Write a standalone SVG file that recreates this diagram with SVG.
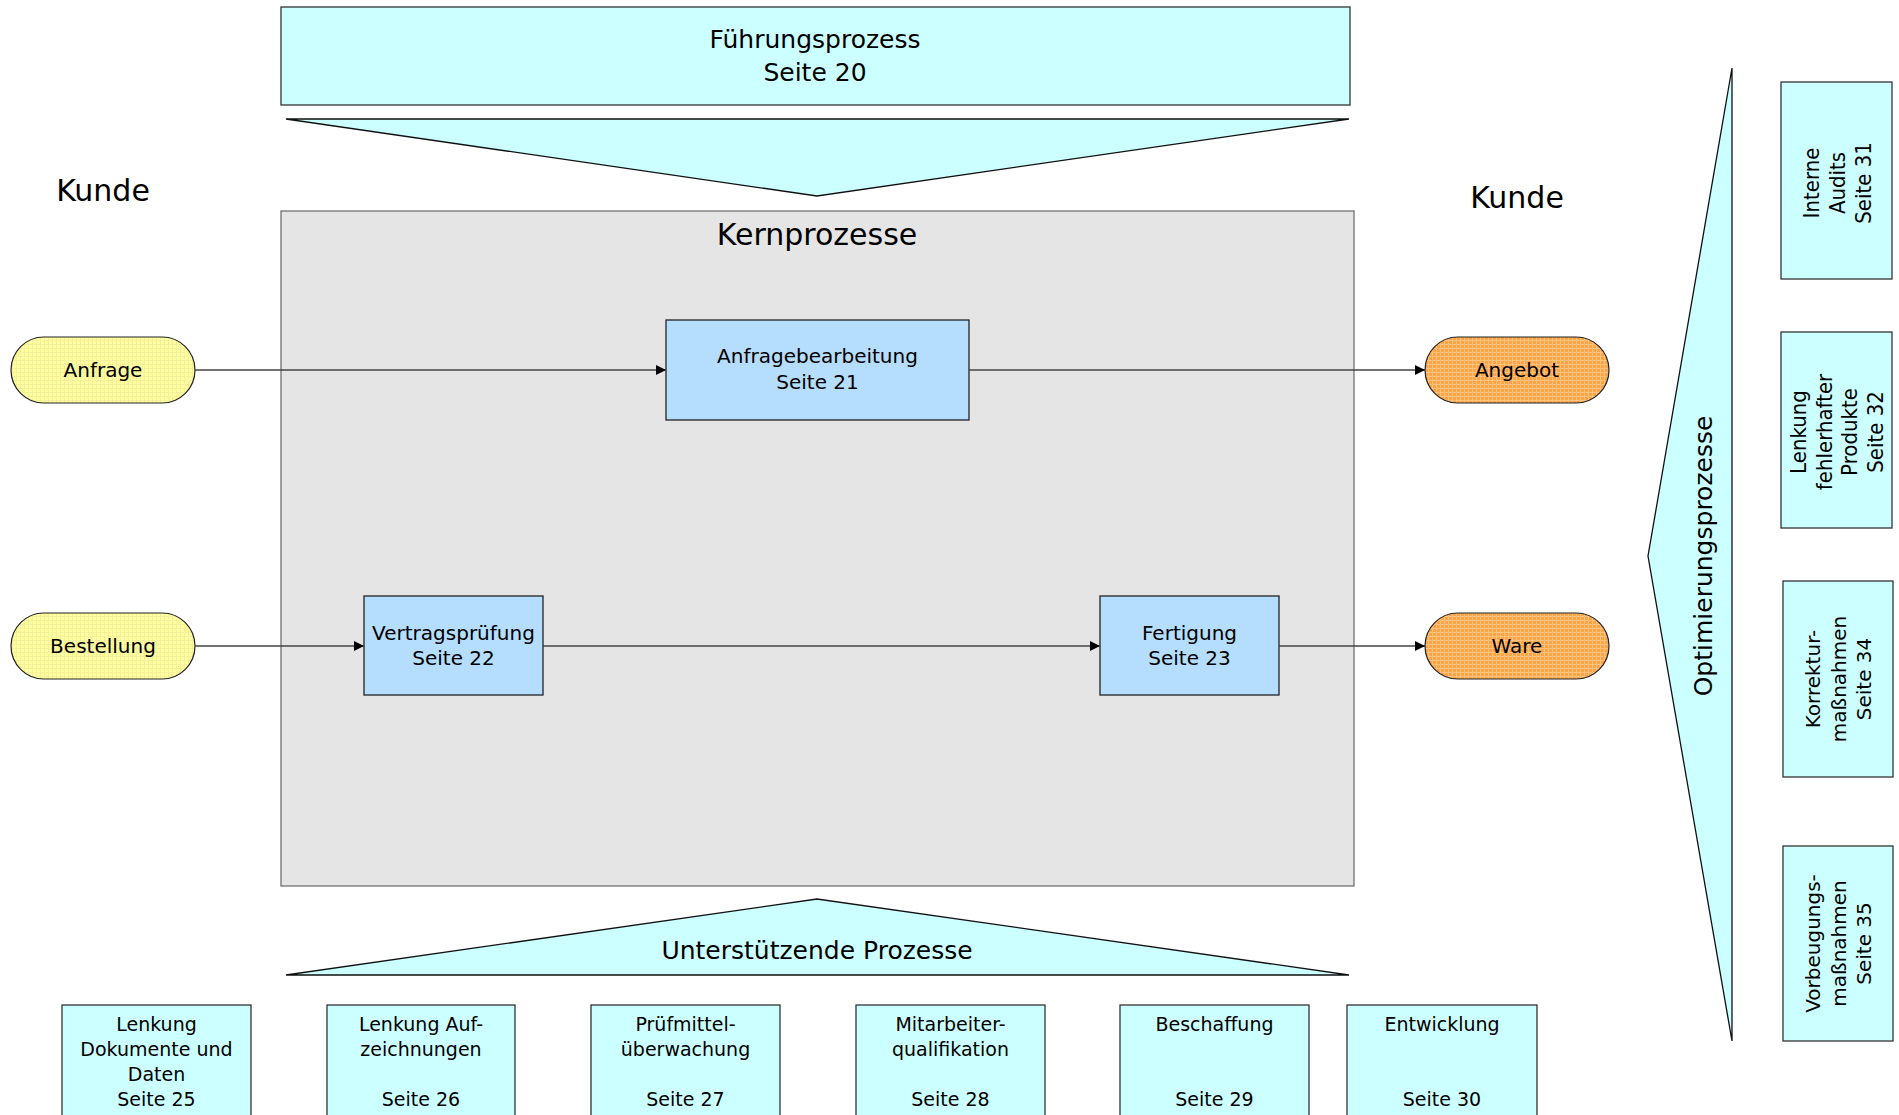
<svg xmlns="http://www.w3.org/2000/svg" width="1899" height="1115" viewBox="0 0 1899 1115">
<defs>
<pattern id="pY" width="4" height="4" patternUnits="userSpaceOnUse">
<rect width="4" height="4" fill="#ffffa0"/>
<path d="M0 0.5H4M0.5 0V4" stroke="#f4f09c" stroke-width="1"/>
</pattern>
<pattern id="pO" width="4" height="4" patternUnits="userSpaceOnUse">
<rect width="4" height="4" fill="#ffa445"/>
<path d="M0 0.5H4M0.5 0V4" stroke="#ffc27e" stroke-width="1"/>
</pattern>
<marker id="arr" viewBox="0 0 10 10" refX="10" refY="5" markerWidth="10" markerHeight="13" markerUnits="userSpaceOnUse" orient="auto">
<path d="M0 0L10 5L0 10Z" fill="#000"/>
</marker>
<style>
text{font-family:"DejaVu Sans",sans-serif;fill:#000;text-anchor:middle}
.cy{fill:#ccffff;stroke:#333;stroke-width:1.3}
.bl{fill:#b5ddfd;stroke:#222;stroke-width:1.3}
.tri{fill:#ccffff;stroke:#111;stroke-width:1.3}
.t20{font-size:20px}
.t19{font-size:19px}
.t25{font-size:25px}
.t30{font-size:30px}
.nar{font-family:"Liberation Sans Narrow","Arial Narrow","DejaVu Sans Condensed","Liberation Sans",sans-serif;font-size:22px;font-stretch:condensed}
.con{stroke:#444;stroke-width:1.5;fill:none;marker-end:url(#arr)}
</style>
</defs>
<rect width="1899" height="1115" fill="#fff"/>

<g id="fuehrungsprozess">
<rect class="cy" x="281" y="7" width="1069" height="98"/>
<text class="t25" x="815" y="48">Führungsprozess</text>
<text class="t25" x="815" y="81">Seite 20</text>
</g>
<g id="fuehrung-pfeil">
<polygon class="tri" points="286,119 1349,119 817,196"/>
</g>

<g id="kunde-links"><text class="t30" x="103" y="201">Kunde</text></g>
<g id="kunde-rechts"><text class="t30" x="1517" y="208">Kunde</text></g>

<g id="kernprozesse">
<rect x="281" y="211" width="1073" height="675" fill="#e5e5e5" stroke="#666" stroke-width="1.2"/>
<text class="t30" x="817" y="245">Kernprozesse</text>
</g>

<g id="anfrage">
<rect x="11" y="337" width="184" height="66" rx="33" fill="url(#pY)" stroke="#222" stroke-width="1.2"/>
<text class="t20" x="103" y="377">Anfrage</text>
</g>
<g id="bestellung">
<rect x="11" y="613" width="184" height="66" rx="33" fill="url(#pY)" stroke="#222" stroke-width="1.2"/>
<text class="t20" x="103" y="653">Bestellung</text>
</g>
<g id="angebot">
<rect x="1425" y="337" width="184" height="66" rx="33" fill="url(#pO)" stroke="#222" stroke-width="1.2"/>
<text class="t20" x="1517" y="377">Angebot</text>
</g>
<g id="ware">
<rect x="1425" y="613" width="184" height="66" rx="33" fill="url(#pO)" stroke="#222" stroke-width="1.2"/>
<text class="t20" x="1517" y="653">Ware</text>
</g>

<g id="anfragebearbeitung">
<rect class="bl" x="666" y="320" width="303" height="100"/>
<text class="t20" x="817.5" y="363">Anfragebearbeitung</text>
<text class="t20" x="817.5" y="389">Seite 21</text>
</g>
<g id="vertragspruefung">
<rect class="bl" x="364" y="596" width="179" height="99"/>
<text class="t20" x="453.5" y="640">Vertragsprüfung</text>
<text class="t20" x="453.5" y="665">Seite 22</text>
</g>
<g id="fertigung">
<rect class="bl" x="1100" y="596" width="179" height="99"/>
<text class="t20" x="1189.5" y="640">Fertigung</text>
<text class="t20" x="1189.5" y="665">Seite 23</text>
</g>

<g id="connectors">
<line class="con" x1="195" y1="370" x2="666" y2="370"/>
<line class="con" x1="969" y1="370" x2="1425" y2="370"/>
<line class="con" x1="195" y1="646" x2="364" y2="646"/>
<line class="con" x1="543" y1="646" x2="1100" y2="646"/>
<line class="con" x1="1279" y1="646" x2="1425" y2="646"/>
</g>

<g id="unterstuetzende-prozesse">
<polygon class="tri" points="286,975 1349,975 817,899"/>
<text class="t25" x="817" y="959">Unterstützende Prozesse</text>
</g>

<g id="lenkung-dokumente">
<rect class="cy" x="62" y="1005" width="189" height="130"/>
<text class="t19" x="156.5" y="1031">Lenkung</text>
<text class="t19" x="156.5" y="1056">Dokumente und</text>
<text class="t19" x="156.5" y="1081">Daten</text>
<text class="t19" x="156.5" y="1106">Seite 25</text>
</g>
<g id="lenkung-aufzeichnungen">
<rect class="cy" x="327" y="1005" width="188" height="130"/>
<text class="t19" x="421" y="1031">Lenkung Auf-</text>
<text class="t19" x="421" y="1056">zeichnungen</text>
<text class="t19" x="421" y="1106">Seite 26</text>
</g>
<g id="pruefmittel">
<rect class="cy" x="591" y="1005" width="189" height="130"/>
<text class="t19" x="685.5" y="1031">Prüfmittel-</text>
<text class="t19" x="685.5" y="1056">überwachung</text>
<text class="t19" x="685.5" y="1106">Seite 27</text>
</g>
<g id="mitarbeiter">
<rect class="cy" x="856" y="1005" width="189" height="130"/>
<text class="t19" x="950.5" y="1031">Mitarbeiter-</text>
<text class="t19" x="950.5" y="1056">qualifikation</text>
<text class="t19" x="950.5" y="1106">Seite 28</text>
</g>
<g id="beschaffung">
<rect class="cy" x="1120" y="1005" width="189" height="130"/>
<text class="t19" x="1214.5" y="1031">Beschaffung</text>
<text class="t19" x="1214.5" y="1106">Seite 29</text>
</g>
<g id="entwicklung">
<rect class="cy" x="1347" y="1005" width="190" height="130"/>
<text class="t19" x="1442" y="1031">Entwicklung</text>
<text class="t19" x="1442" y="1106">Seite 30</text>
</g>

<g id="optimierungsprozesse">
<polygon class="tri" points="1732,68 1732,1041 1648,556"/>
<text class="t25" transform="translate(1712,556) rotate(-90)" x="0" y="0">Optimierungsprozesse</text>
</g>

<g id="interne-audits">
<rect class="cy" x="1781" y="82" width="111" height="197"/>
<g transform="translate(1836.5,183) rotate(-90)">
<text class="nar" x="0" y="-17.5">Interne</text>
<text class="nar" x="0" y="8.5">Audits</text>
<text class="nar" x="0" y="34.5">Seite 31</text>
</g>
</g>
<g id="lenkung-fehlerhafter">
<rect class="cy" x="1781" y="332" width="111" height="196"/>
<g transform="translate(1836.5,432) rotate(-90)">
<text class="nar" x="0" y="-30.5">Lenkung</text>
<text class="nar" x="0" y="-5">fehlerhafter</text>
<text class="nar" x="0" y="20.5">Produkte</text>
<text class="nar" x="0" y="46">Seite 32</text>
</g>
</g>
<g id="korrekturmassnahmen">
<rect class="cy" x="1783" y="581" width="110" height="196"/>
<g transform="translate(1838,679) rotate(-90)">
<text class="t20" x="0" y="-18">Korrektur-</text>
<text class="t20" x="0" y="8">maßnahmen</text>
<text class="t20" x="0" y="33">Seite 34</text>
</g>
</g>
<g id="vorbeugungsmassnahmen">
<rect class="cy" x="1783" y="846" width="110" height="195"/>
<g transform="translate(1838,943.5) rotate(-90)">
<text class="t20" x="0" y="-18">Vorbeugungs-</text>
<text class="t20" x="0" y="8">maßnahmen</text>
<text class="t20" x="0" y="33">Seite 35</text>
</g>
</g>
</svg>
